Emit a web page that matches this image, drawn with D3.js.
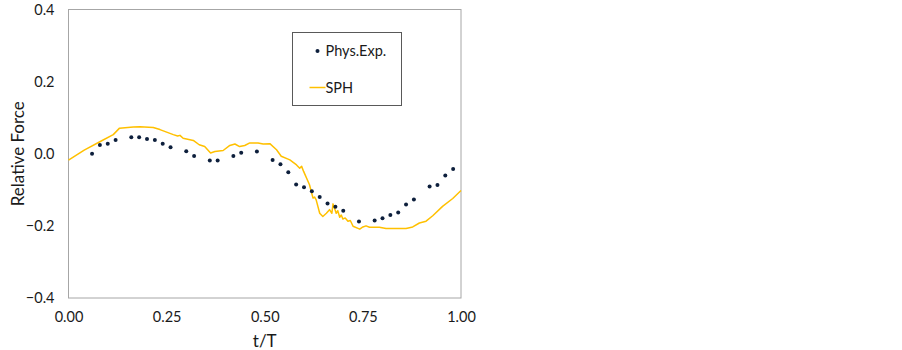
<!DOCTYPE html>
<html>
<head>
<meta charset="utf-8">
<script src="https://cdn.jsdelivr.net/npm/d3@7"></script>
<style>
  body { margin: 0; background: #fff; }
  svg text { font-family: Lato, "Open Sans", sans-serif; fill: #1a1a1a; }
</style>
</head>
<body>
<div id="chart"></div>
<script>
// Phys.Exp. points (t/T, relative force)
const expT = [0.06, 0.08, 0.10, 0.12, 0.16, 0.18, 0.20, 0.22, 0.24, 0.26, 0.30, 0.32, 0.36, 0.38,
  0.42, 0.44, 0.48, 0.52, 0.54, 0.56, 0.58, 0.60, 0.62, 0.64, 0.66, 0.68, 0.70, 0.74, 0.78,
  0.80, 0.82, 0.84, 0.86, 0.88, 0.92, 0.94, 0.96, 0.98];
const expF = [0.000, 0.024, 0.028, 0.038, 0.046, 0.046, 0.041, 0.038, 0.028, 0.018, 0.007, -0.006,
  -0.019, -0.019, -0.006, 0.003, 0.006, -0.017, -0.029, -0.051, -0.085, -0.093, -0.104, -0.120,
  -0.138, -0.147, -0.158, -0.188, -0.185, -0.179, -0.170, -0.163, -0.141, -0.127, -0.091, -0.087,
  -0.060, -0.042];

// SPH curve
const sphT = [0.000, 0.040, 0.081, 0.114, 0.130, 0.165, 0.182, 0.216, 0.233, 0.267, 0.278, 0.284, 0.292,
  0.318, 0.333, 0.347, 0.362, 0.373, 0.394, 0.411, 0.424, 0.436, 0.449, 0.462, 0.483, 0.496,
  0.513, 0.530, 0.542, 0.564, 0.581, 0.589, 0.594, 0.599, 0.614, 0.623, 0.627, 0.631, 0.640, 0.648,
  0.657, 0.665, 0.671, 0.674, 0.682, 0.686, 0.691, 0.695, 0.699, 0.705, 0.712, 0.718, 0.725, 0.742,
  0.750, 0.758, 0.767, 0.792, 0.809, 0.860, 0.877, 0.894, 0.911, 0.928, 0.953, 0.979, 1.000];
const sphF = [-0.018, 0.010, 0.034, 0.053, 0.071, 0.074, 0.075, 0.073, 0.067, 0.053, 0.049, 0.051, 0.043,
  0.037, 0.025, 0.020, 0.002, 0.006, 0.009, 0.023, 0.027, 0.020, 0.023, 0.030, 0.030, 0.027,
  0.028, 0.011, -0.007, -0.017, -0.031, -0.040, -0.035, -0.049, -0.086, -0.123, -0.120, -0.128, -0.165,
  -0.174, -0.165, -0.155, -0.165, -0.139, -0.165, -0.158, -0.176, -0.170, -0.181, -0.178, -0.187,
  -0.185, -0.201, -0.209, -0.203, -0.200, -0.204, -0.204, -0.207, -0.207, -0.203, -0.192, -0.187,
  -0.172, -0.146, -0.124, -0.102];

const xTicks = [0, 0.25, 0.5, 0.75, 1];
const yTicks = [-0.4, -0.2, 0, 0.2, 0.4];

const W = 902, H = 350;
const margin = { top: 9.5, right: 441, bottom: 52, left: 68.5 };
const width = W - margin.left - margin.right;
const height = H - margin.top - margin.bottom;

const svg = d3.select("#chart").append("svg")
    .attr("width", W)
    .attr("height", H);

const g = svg.append("g")
    .attr("transform", `translate(${margin.left},${margin.top})`);

const x = d3.scaleLinear().domain([0, 1]).range([0, width]);
const y = d3.scaleLinear().domain([-0.4, 0.4]).range([height, 0]);

// plot frame
g.append("rect")
    .attr("width", width)
    .attr("height", height)
    .attr("fill", "none")
    .attr("stroke", "#a6a6a6")
    .attr("stroke-width", 1);

const xAxis = g.append("g")
    .attr("transform", `translate(0,${height})`)
    .call(d3.axisBottom(x).tickValues(xTicks).tickFormat(d3.format(".2f")).tickSize(0).tickPadding(14));
const yAxis = g.append("g")
    .call(d3.axisLeft(y).tickValues(yTicks).tickFormat(d3.format(".1f")).tickSize(0).tickPadding(14));
[xAxis, yAxis].forEach(a => {
    a.select(".domain").remove();
    a.selectAll("text").attr("font-size", 14.5).attr("font-family", "Lato, 'Open Sans', sans-serif").attr("fill", "#1a1a1a");
});

// axis titles
svg.append("text")
    .attr("x", margin.left + width / 2)
    .attr("y", 347)
    .attr("text-anchor", "middle")
    .attr("font-size", 17)
    .text("t/T");
svg.append("text")
    .attr("transform", `translate(24,${margin.top + height / 2}) rotate(-90)`)
    .attr("text-anchor", "middle")
    .attr("font-size", 17)
    .text("Relative Force");

// SPH line
const sph = sphT.map((t, i) => [t, sphF[i]]);
g.append("path")
    .datum(sph)
    .attr("fill", "none")
    .attr("stroke", "#ffc000")
    .attr("stroke-width", 1.5)
    .attr("stroke-linejoin", "round")
    .attr("d", d3.line().x(d => x(d[0])).y(d => y(d[1])));

// experimental points
g.selectAll("circle.exp")
    .data(expT.map((t, i) => [t, expF[i]]))
    .join("circle")
    .attr("class", "exp")
    .attr("cx", d => x(d[0]))
    .attr("cy", d => y(d[1]))
    .attr("r", 2)
    .attr("fill", "#0d1f3c");

// legend
const leg = svg.append("g").attr("transform", "translate(292.5,32.5)");
leg.append("rect")
    .attr("width", 109)
    .attr("height", 73)
    .attr("fill", "#fff")
    .attr("stroke", "#595959")
    .attr("stroke-width", 1);
leg.append("circle").attr("cx", 25).attr("cy", 18.5).attr("r", 2).attr("fill", "#0d1f3c");
leg.append("text").attr("x", 33).attr("y", 18.5).attr("dy", "0.35em").attr("font-size", 14.5).text("Phys.Exp.");
leg.append("line").attr("x1", 17).attr("x2", 33).attr("y1", 55).attr("y2", 55)
    .attr("stroke", "#ffc000").attr("stroke-width", 1.5);
leg.append("text").attr("x", 33).attr("y", 55).attr("dy", "0.35em").attr("font-size", 14.5).text("SPH");
</script>
</body>
</html>
